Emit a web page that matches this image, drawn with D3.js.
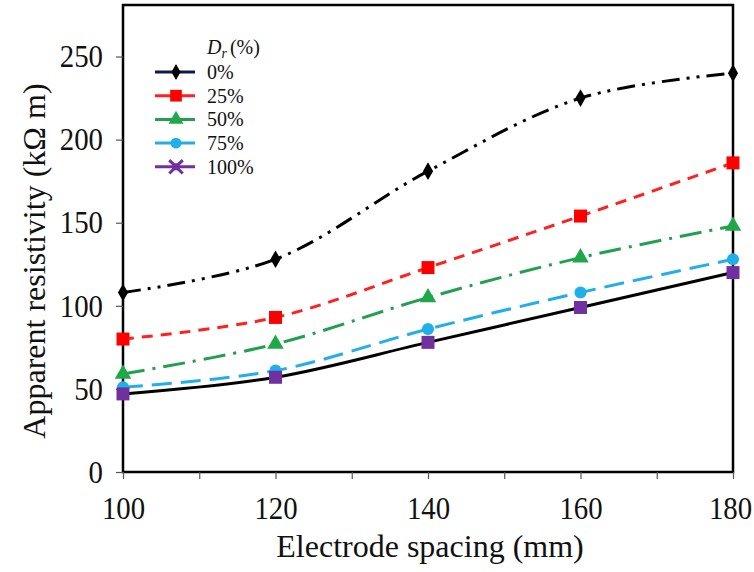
<!DOCTYPE html>
<html><head><meta charset="utf-8">
<script src="https://cdn.jsdelivr.net/npm/d3@7"></script>
<style>body{margin:0;background:#fff}svg{display:block}text{font-family:"Liberation Serif","Times New Roman",serif}</style>
</head><body>
<svg id="c" width="754" height="572"></svg>
<script>
const spacing = [100, 120, 140, 160, 180];
const seriesNames = ["0%", "25%", "50%", "75%", "100%"];
const dr0 = [108, 128, 181, 225, 240];
const dr25 = [80, 93, 123, 154, 186];
const dr50 = [59, 77, 105, 129, 148];
const dr75 = [51, 61, 86, 108, 128];
const dr100 = [47, 57, 78, 99, 120];
const yTicks = [0, 50, 100, 150, 200, 250];
const xTicks = [100, 120, 140, 160, 180];
const xMinorTicks = [100, 110, 120, 130, 140, 150, 160, 170, 180];

const styles = [
  {line:"#000", legendLine:"#0d1a4a", marker:"#000", shape:"diamond", dash:"18,7,3,7,3,7", size:10},
  {line:"#ff2020", legendLine:"#ff2020", marker:"#ff0000", shape:"square", dash:"11,8", size:13},
  {line:"#22a050", legendLine:"#22a050", marker:"#1fa84a", shape:"triangle", dash:"22,8,3,8", size:13},
  {line:"#22aee8", legendLine:"#22aee8", marker:"#1fb0ea", shape:"circle", dash:"20,9", size:12},
  {line:"#000", legendLine:"#7030a0", marker:"#7030a0", shape:"square", dash:null, size:13}
];
const data = [dr0, dr25, dr50, dr75, dr100];

const svg = d3.select("#c");
const L = 123, R = 733, T = 5, B = 472;
const x = d3.scaleLinear().domain([100, 180]).range([L, R]);
const y = d3.scaleLinear().domain([0, 281]).range([B, T]);
const FONT = '"Liberation Serif","Times New Roman",serif';
const SX = 0.9;

// frame
svg.append("rect").attr("x", L).attr("y", T).attr("width", R-L).attr("height", B-T)
  .attr("fill", "none").attr("stroke", "#000").attr("stroke-width", 2.5);

// y axis
const ya = svg.append("g").attr("transform", `translate(${L},0)`)
  .call(d3.axisLeft(y).tickValues(yTicks).tickSize(7).tickPadding(13));
ya.select(".domain").remove();
ya.selectAll("line").attr("stroke", "#555").attr("stroke-width", 1.2);
ya.selectAll("text").attr("font-size", 32).attr("fill", "#111").attr("font-family", FONT)
  .attr("x", -20 / SX).attr("transform", `scale(${SX},1)`);

// x axis
const xa = svg.append("g").attr("transform", `translate(0,${B})`)
  .call(d3.axisBottom(x).tickValues(xMinorTicks).tickSize(7).tickFormat(d => xTicks.includes(d) ? d : "").tickPadding(17));
xa.select(".domain").remove();
xa.selectAll("line").attr("stroke", "#555").attr("stroke-width", 1.2);
xa.selectAll("text").attr("font-size", 32).attr("fill", "#111").attr("font-family", FONT)
  .attr("transform", d => `translate(${d === 180 ? -3 : 0},0) scale(${SX},1)`);

// axis titles
svg.append("text").attr("x", (L+R)/2 + 2).attr("y", 557).attr("text-anchor", "middle")
  .attr("font-size", 32).attr("fill", "#111").text("Electrode spacing (mm)");
svg.append("text").attr("transform", `translate(45,261) rotate(-90)`).attr("text-anchor", "middle")
  .attr("font-size", 32).attr("fill", "#111").text("Apparent resistivity (kΩ m)");

function symbolFor(shape, size) {
  const map = {diamond: d3.symbolDiamond, square: d3.symbolSquare, triangle: d3.symbolTriangle, circle: d3.symbolCircle};
  return d3.symbol().type(map[shape]).size(size*size*(shape==="circle"?0.8:shape==="triangle"?0.7:shape==="diamond"?0.9:1))();
}

const line = d3.line().x((d,i) => x(spacing[i])).y(d => y(d)).curve(d3.curveCatmullRom.alpha(0.5));
data.forEach((vals, si) => {
  const s = styles[si];
  svg.append("path").attr("d", line(vals)).attr("fill", "none").attr("stroke", s.line)
    .attr("stroke-width", 3).attr("stroke-dasharray", s.dash);
});
data.forEach((vals, si) => {
  const s = styles[si];
  svg.append("g").selectAll("path").data(vals).join("path")
    .attr("transform", (d,i) => `translate(${x(spacing[i])},${y(d)})`)
    .attr("d", symbolFor(s.shape, s.size)).attr("fill", s.marker);
});

// legend
const lg = svg.append("g");
const hdr = lg.append("text").attr("x", 207).attr("y", 54).attr("font-size", 20).attr("fill", "#111");
hdr.append("tspan").attr("font-style", "italic").text("D");
hdr.append("tspan").attr("font-style", "italic").attr("font-size", 14).attr("dy", 4).text("r");
hdr.append("tspan").attr("dy", -4).attr("dx", 3).text("(%)");
seriesNames.forEach((n, i) => {
  const yy = 72 + i * 23.7;
  const s = styles[i];
  lg.append("line").attr("x1", 155).attr("x2", 195).attr("y1", yy).attr("y2", yy)
    .attr("stroke", s.legendLine).attr("stroke-width", 3);
  const sym = i === 4 ? d3.symbol().type(d3.symbolX).size(120)() : symbolFor(s.shape, s.size*0.9);
  lg.append("path").attr("transform", `translate(176,${yy})`).attr("d", sym)
    .attr("fill", s.marker).attr("stroke", i===4 ? s.marker : "none").attr("stroke-width", i===4?3:0);
  if (i === 4) lg.append("path").attr("transform", `translate(176,${yy})`).attr("d", d3.symbol().type(d3.symbolSquare).size(50)()).attr("fill", s.marker);
  lg.append("text").attr("x", 207).attr("y", yy + 7).attr("font-size", 20).attr("fill", "#111").text(n);
});
</script>
</body></html>
